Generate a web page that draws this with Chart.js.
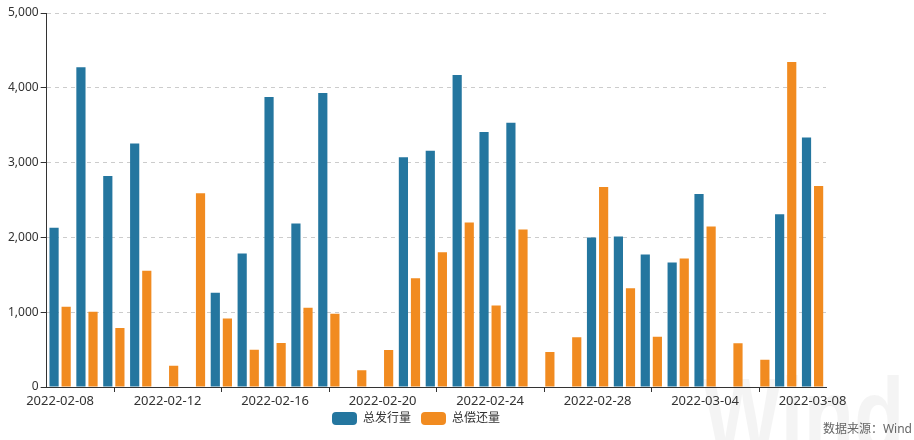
<!DOCTYPE html>
<html>
<head>
<meta charset="utf-8">
<script src="https://cdn.jsdelivr.net/npm/chart.js@4.4.1/dist/chart.umd.min.js"></script>
<style>
  html, body { margin: 0; padding: 0; background: #fff; }
  #wrap { width: 914px; height: 440px; position: relative; }
</style>
</head>
<body>
<div id="wrap"><canvas id="chart"></canvas></div>
<script>
const dates = [
    '2022-02-08', '2022-02-09', '2022-02-10', '2022-02-11', '2022-02-12', '2022-02-13', '2022-02-14',
    '2022-02-15', '2022-02-16', '2022-02-17', '2022-02-18', '2022-02-19', '2022-02-20', '2022-02-21',
    '2022-02-22', '2022-02-23', '2022-02-24', '2022-02-25', '2022-02-26', '2022-02-27', '2022-02-28',
    '2022-03-01', '2022-03-02', '2022-03-03', '2022-03-04', '2022-03-05', '2022-03-06', '2022-03-07',
    '2022-03-08'
];
// 总发行量 (null = pas d'émission ce jour-là)
const faxing = [
    2130, 4275, 2820, 3255, null, null, 1260,
    1785, 3877, 2186, 3932, null, null, 3070,
    3160, 4172, 3410, 3532, null, null, 1998,
    2013, 1770, 1665, 2580, null, null, 2311,
    3335
];
// 总偿还量
const changhuan = [
    1073, 1005, 790, 1553, 283, 2590, 915,
    498, 588, 1059, 978, 225, 494, 1454,
    1800, 2200, 1090, 2105, 467, 665, 2675,
    1319, 673, 1719, 2146, 584, 363, 4346,
    2688
];
const yTicks = [0, 1000, 2000, 3000, 4000, 5000];

const bleu = '#24769f';
const orange = '#f18b20';
const police = "'Noto Sans', 'Noto Sans CJK SC', sans-serif";

// filigrane + source + petites graduations de l'axe x
const decor = {
    id: 'decor',
    beforeDraw(chart) {
        const ctx = chart.ctx;
        ctx.save();
        ctx.fillStyle = 'rgba(0,0,0,0.045)';
        ctx.font = "bold 92px 'Liberation Sans', Arial, sans-serif";
        ctx.textBaseline = 'alphabetic';
        ctx.setTransform(0.9, 0, 0, 1.15, 0, 0);
        ctx.fillText('Wind', 703 / 0.9, 452 / 1.15);
        ctx.restore();
    },
    afterDraw(chart) {
        const ctx = chart.ctx;
        const x = chart.scales.x;
        const bas = chart.chartArea.bottom;
        ctx.save();
        ctx.strokeStyle = '#333';
        ctx.lineWidth = 1;
        for (let i = 2; i < dates.length; i += 4) {
            const px = Math.round(x.getPixelForValue(i)) + 0.5;
            ctx.beginPath();
            ctx.moveTo(px, bas);
            ctx.lineTo(px, bas + 5);
            ctx.stroke();
        }
        ctx.fillStyle = '#666';
        ctx.font = '12px ' + police;
        ctx.textAlign = 'right';
        ctx.textBaseline = 'middle';
        ctx.fillText('数据来源：Wind', 912, 430);
        ctx.restore();
    }
};

new Chart(document.getElementById('chart'), {
    type: 'bar',
    data: {
        labels: dates,
        datasets: [
            { label: '总发行量', data: faxing, backgroundColor: bleu },
            { label: '总偿还量', data: changhuan, backgroundColor: orange }
        ]
    },
    options: {
        responsive: true,
        maintainAspectRatio: false,
        animation: false,
        categoryPercentage: 0.9,
        barPercentage: 0.76,
        layout: { padding: { left: 6, right: 88, top: 13, bottom: 5 } },
        scales: {
            x: {
                grid: { display: false, drawTicks: false },
                border: { display: true, color: '#333', width: 1 },
                afterFit: s => { s.height = 15; },
                ticks: {
                    autoSkip: false,
                    maxRotation: 0,
                    mirror: true,
                    padding: -22,
                    color: '#333',
                    font: { family: police, size: 13 },
                    callback: (v, i) => (i % 4 === 0 ? dates[i] : '')
                }
            },
            y: {
                min: 0,
                max: 5000,
                afterBuildTicks: axis => { axis.ticks = yTicks.map(v => ({ value: v })); },
                grid: {
                    color: '#cccccc',
                    tickColor: '#333',
                    tickLength: 6,
                    tickBorderDash: []
                },
                border: { display: true, color: '#333', width: 1, dash: [4, 4] },
                ticks: {
                    padding: 2,
                    color: '#333',
                    font: { family: police, size: 12 },
                    callback: v => v.toLocaleString('en-US')
                }
            }
        },
        plugins: {
            legend: {
                position: 'bottom',
                labels: {
                    boxWidth: 25,
                    boxHeight: 13,
                    useBorderRadius: true,
                    borderRadius: 4,
                    padding: 10,
                    color: '#333',
                    font: { family: police, size: 12 }
                }
            },
            tooltip: { enabled: false }
        }
    },
    plugins: [decor]
});
</script>
</body>
</html>
